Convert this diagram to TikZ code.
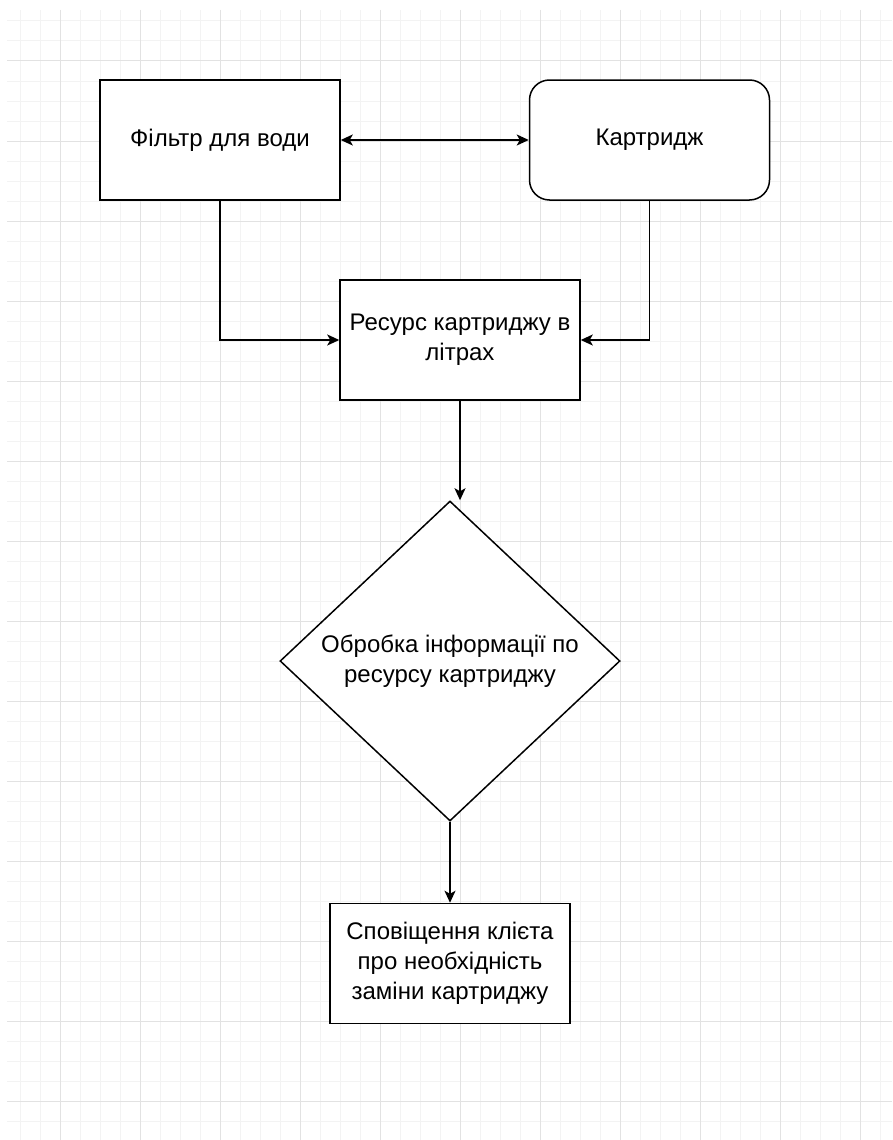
\documentclass[tikz,border=0pt]{standalone}
\usepackage{fontspec}
\setmainfont{Liberation Sans}
\usetikzlibrary{positioning,arrows.meta,shapes.geometric}
\definecolor{gridminor}{RGB}{243,243,243}
\definecolor{gridmajor}{RGB}{226,226,226}
\tikzset{
  blk/.style={draw=black,line width=1.5pt,fill=white,align=center,inner sep=0pt,
              minimum width=240pt,minimum height=120pt,
              font=\fontsize{24}{30}\selectfont},
  rblk/.style={blk,rounded corners=20pt},
  dec/.style={blk,diamond,minimum width=340pt,minimum height=320pt},
  sig/.style={-{Stealth[length=12pt,width=11pt,inset=3pt]},line width=1.5pt},
  dsig/.style={{Stealth[length=12pt,width=11pt,inset=3pt]}-{Stealth[length=12pt,width=11pt,inset=3pt]},
               line width=1.5pt},
}
\begin{document}
\begin{tikzpicture}[x=1pt,y=-1pt]
  \useasboundingbox (0,0) rectangle (892,1140);
  % ===== background grid =====
  \foreach \gx in {20,40,...,880} \draw[gridminor,line width=1pt] (\gx,10) -- (\gx,1140);
  \foreach \gy in {21,41,...,1121} \draw[gridminor,line width=1pt] (7,\gy) -- (892,\gy);
  \foreach \gx in {60,140,...,860} \draw[gridmajor,line width=1pt] (\gx,10) -- (\gx,1140);
  \foreach \gy in {61,141,...,1101} \draw[gridmajor,line width=1pt] (7,\gy) -- (892,\gy);

  % ===== top row =====
  \node[blk]                       (filt) at (220,140) {Фільтр для води};
  \node[rblk,right=188pt of filt]  (cart) {Картридж};
  \draw[dsig] (filt) -- (cart);

  % ===== resource =====
  \node[blk]                       (res)  at (460,340) {Ресурс картриджу в\\літрах};
  \draw[sig] (filt.south) |- (res.west);
  \draw[sig] (cart.south) |- (res.east);

  % ===== decision and notice =====
  \node[dec]                       (proc) at (450,661) {Обробка інформації по\\ресурсу картриджу};
  \node[blk,below=81pt of proc]    (note) {Сповіщення клієта\\про необхідність\\заміни картриджу};
  \draw[sig] (res.south) -- (res.south |- proc.north);
  \draw[sig] (proc.south) -- (note.north);
\end{tikzpicture}
\end{document}
